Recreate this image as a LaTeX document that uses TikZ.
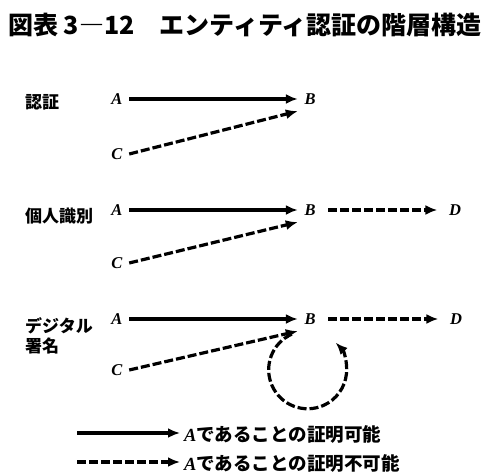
\documentclass[tikz,border=0pt]{standalone}
\usepackage{fontspec}
\newfontfamily\jpfont{Noto Sans CJK JP}
\newfontfamily\latinfont{Liberation Serif}
\usetikzlibrary{calc}
\usetikzlibrary{arrows.meta}
\tikzset{
    letter/.style = {
        font=\latinfont\bfseries\itshape\fontsize{16.5}{18}\selectfont,
        inner sep=6.5pt,
    },
    rowname/.style = {
        font=\jpfont\bfseries\fontsize{17}{20}\selectfont,
        anchor=west,
        inner sep=0pt,
        align=left,
    },
    provable/.style = {
        line width=3.2pt,
        -{Latex[length=12pt, width=10pt]},
    },
    unprovable/.style = {
        provable,
        dash pattern=on 9pt off 3pt,
    },
    keytext/.style = {
        font=\jpfont\bfseries\fontsize{18.5}{20}\selectfont,
        anchor=west,
        inner sep=4pt,
    }
}

\begin{document}
\begin{tikzpicture}[x=1pt, y=1pt]
  \useasboundingbox (0,0) rectangle (500,-474);

  % Title
  \node[anchor=west, inner sep=0pt, font=\jpfont\bfseries\fontsize{25}{30}\selectfont] (title) at (8,-25) {図表 3―12　エンティティ認証の階層構造};

  % Authentication
  \node[rowname] (auth) at (25,-102) {認証};
  \node[letter] (A1) at (117,-99) {A};
  \node[letter] (B1) at (310,-99) {B};
  \node[letter] (C1) at (117,-154) {C};
  \draw[provable] (A1) -- (B1);
  \draw[unprovable] (C1.east) -- (B1.south west);

  % Identification
  \node[rowname] (ident) at (25,-216) {個人識別};
  \node[letter] (A2) at (117,-210) {A};
  \node[letter] (B2) at (310,-210) {B};
  \node[letter] (C2) at (117,-263) {C};
  \node[letter] (D2) at (455,-210) {D};
  \draw[provable] (A2) -- (B2);
  \draw[unprovable] (C2.east) -- (B2.south west);
  \draw[unprovable, shorten <=6pt, shorten >=5pt] (B2) -- (D2);

  % Digital signature
  \node[rowname] (sign) at (25,-336) {デジタル\\署名};
  \node[letter] (A3) at (117,-319) {A};
  \node[letter] (B3) at (310,-319) {B};
  \node[letter] (C3) at (117,-370) {C};
  \node[letter] (D3) at (456,-319) {D};
  \draw[provable] (A3) -- (B3);
  \draw[unprovable] (C3.east) -- (B3.south west);
  \draw[unprovable, shorten <=6pt, shorten >=5pt] (B3) -- (D3);
  \draw[unprovable] ($(B3.south west)+(-6,-3)$) arc[start angle=114, end angle=404, radius=39];

  % Legend
  \coordinate (key1) at (77,-433);
  \coordinate (key2) at (77,-462);
  \node[keytext] (yes) at (180,-434) {{\latinfont\itshape A}であることの証明可能};
  \node[keytext] (no) at (180,-463) {{\latinfont\itshape A}であることの証明不可能};
  \draw[provable] (key1) -- (key1 -| yes.west);
  \draw[unprovable] (key2) -- (key2 -| no.west);

\end{tikzpicture}
\end{document}
